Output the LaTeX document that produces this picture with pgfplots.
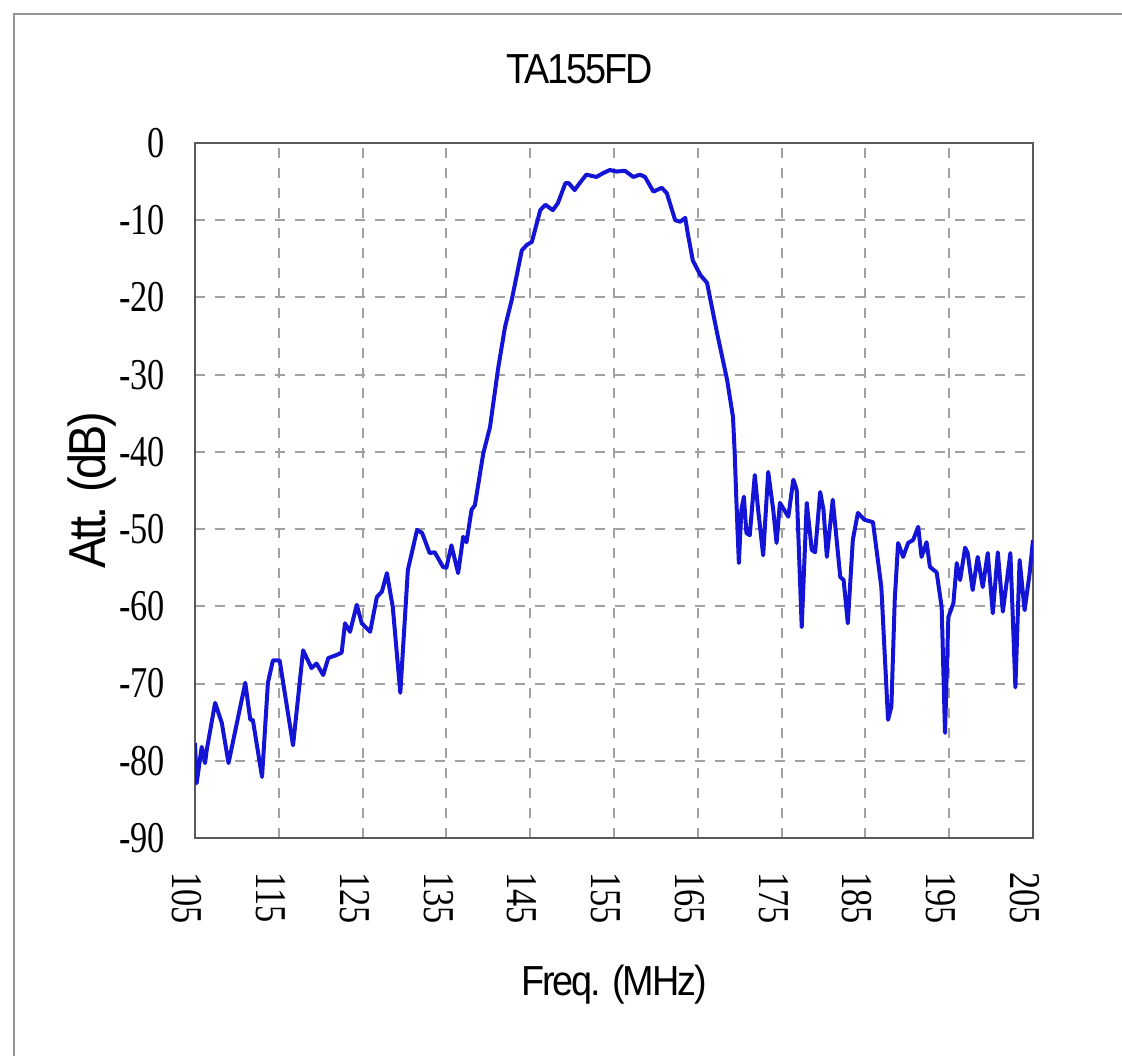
\documentclass[border=0pt]{standalone}
\usepackage{fontspec}
\usepackage{pgfplots}
\pgfplotsset{compat=1.18}
\newfontfamily\labelfont[FakeStretch=0.9,LetterSpace=-5]{Liberation Sans}
\newfontfamily\tickfont[FakeStretch=0.78]{Liberation Serif}
\definecolor{curve}{RGB}{20,20,215}
\definecolor{gridgray}{RGB}{160,160,160}
\definecolor{framegray}{RGB}{150,150,150}
\begin{document}
\begin{tikzpicture}
        \begin{axis}[
                scale only axis,
                width=209.5pt,
                height=173.75pt,
                xmin=105, xmax=205,
                ymin=-90, ymax=0,
                xtick={105,115,...,205},
                ytick={-90,-80,...,0},
                major tick length=0pt,
                /pgf/number format/assume math mode=true,
                tick label style={font=\fontsize{11}{12}\tickfont},
                xticklabel style={rotate=-90, anchor=west, xshift=5pt, yshift=-2pt},
                yticklabel style={xshift=-4pt},
                xmajorgrids=true,
                ymajorgrids=true,
                grid style={dashed, dash pattern=on 2.5pt off 2.5pt, gridgray, line width=0.5pt},
                axis line style={draw=black!65, line width=0.6pt},
                title={TA155FD},
                title style={font=\fontsize{10.5}{12}\labelfont, at={(0.459,1)}, anchor=center, yshift=12.5pt},
                xlabel={Freq. (MHz)},
                xlabel style={font=\fontsize{10.5}{12}\labelfont, at={(0.5,0)}, anchor=center, yshift=-36.75pt},
                ylabel={Att. (dB)},
                ylabel style={font=\fontsize{13}{14}\labelfont, at={(-0.123,0.5)}, anchor=center},
            ]

            % TA155FD response
            \addplot[curve, line width=1pt, line join=round] coordinates {
                    (105.0,-77.7) (105.2,-82.9) (105.8,-78.2) (106.2,-80.3) (106.4,-78.6)
                    (107.4,-72.5) (108.2,-75.1) (109.0,-80.3) (111.0,-69.9) (111.6,-74.7)
                    (111.9,-74.7) (113.0,-82.1) (113.7,-69.9) (114.3,-67.0) (115.1,-67.0)
                    (116.7,-78.0) (117.9,-65.7) (118.9,-68.0) (119.5,-67.4) (120.3,-68.9)
                    (120.9,-66.7) (121.9,-66.3) (122.5,-66.0) (122.9,-62.2) (123.5,-63.3)
                    (124.3,-59.8) (124.9,-62.2) (125.9,-63.3) (126.7,-58.8) (127.3,-58.1)
                    (127.9,-55.7) (128.6,-60.1) (129.5,-71.2) (130.4,-55.3) (131.5,-50.1)
                    (132.1,-50.5) (133.0,-53.1) (133.6,-53.0) (134.6,-54.9) (135.0,-55.0)
                    (135.6,-52.1) (136.4,-55.7) (137.0,-51.0) (137.4,-51.7) (138.0,-47.5)
                    (138.4,-46.9) (139.4,-40.2) (140.2,-36.8) (141.2,-29.0) (142.0,-23.8)
                    (142.8,-20.3) (144.0,-13.9) (144.6,-13.2) (145.2,-12.8) (146.2,-8.7)
                    (146.8,-8.0) (147.7,-8.7) (148.3,-7.8) (149.2,-5.2) (149.6,-5.2)
                    (150.3,-6.1) (150.9,-5.2) (151.7,-4.1) (152.9,-4.4) (153.7,-3.9)
                    (154.5,-3.5) (155.3,-3.7) (156.3,-3.6) (157.3,-4.4) (158.1,-4.1)
                    (158.7,-4.4) (159.7,-6.3) (160.7,-5.8) (161.3,-6.5) (162.3,-10.0)
                    (162.9,-10.2) (163.5,-9.7) (163.8,-11.7) (164.4,-15.2) (165.3,-17.1)
                    (166.1,-18.1) (167.3,-24.6) (168.5,-30.7) (169.2,-35.5) (169.4,-40.1)
                    (169.6,-46.2) (169.9,-54.4) (170.2,-47.5) (170.5,-45.8) (170.8,-50.5)
                    (171.2,-50.8) (171.8,-43.0) (172.2,-47.5) (172.8,-53.4) (173.4,-42.6)
                    (174.0,-47.5) (174.4,-51.8) (174.8,-46.6) (175.8,-48.4) (176.4,-43.6)
                    (176.8,-44.9) (177.4,-62.7) (178.0,-46.6) (178.6,-52.7) (179.0,-53.0)
                    (179.6,-45.2) (180.0,-47.5) (180.4,-53.6) (181.1,-46.2) (182.0,-56.2)
                    (182.4,-56.6) (182.9,-62.2) (183.5,-51.4) (184.1,-47.9) (184.9,-48.8)
                    (185.9,-49.1) (186.9,-57.5) (187.7,-74.7) (188.1,-73.0) (188.5,-59.2)
                    (188.9,-51.8) (189.5,-53.6) (190.1,-51.8) (190.7,-51.4) (191.3,-49.7)
                    (191.7,-53.6) (192.3,-51.7) (192.7,-54.9) (193.5,-55.6) (194.1,-60.1)
                    (194.5,-76.4) (194.9,-61.4) (195.5,-59.6) (195.9,-54.4) (196.3,-56.6)
                    (196.9,-52.4) (197.2,-53.1) (197.8,-57.9) (198.4,-53.6) (199.0,-57.5)
                    (199.6,-53.1) (200.2,-60.9) (200.8,-53.0) (201.4,-60.7) (202.3,-53.1)
                    (202.9,-70.5) (203.4,-54.0) (204.0,-60.5) (204.6,-55.7) (205.0,-51.4)
                };

        \end{axis}
        % outer frame, cut by the page on the right and bottom
        \draw[framegray, line width=0.5pt] (-45.25pt,-70pt) -- (-45.25pt,206pt) -- (250pt,206pt);
        \pgfresetboundingbox
        \path[use as bounding box] (-48.75pt,-54.5pt) rectangle (231.75pt,209.5pt);
    \end{tikzpicture}
\end{document}
